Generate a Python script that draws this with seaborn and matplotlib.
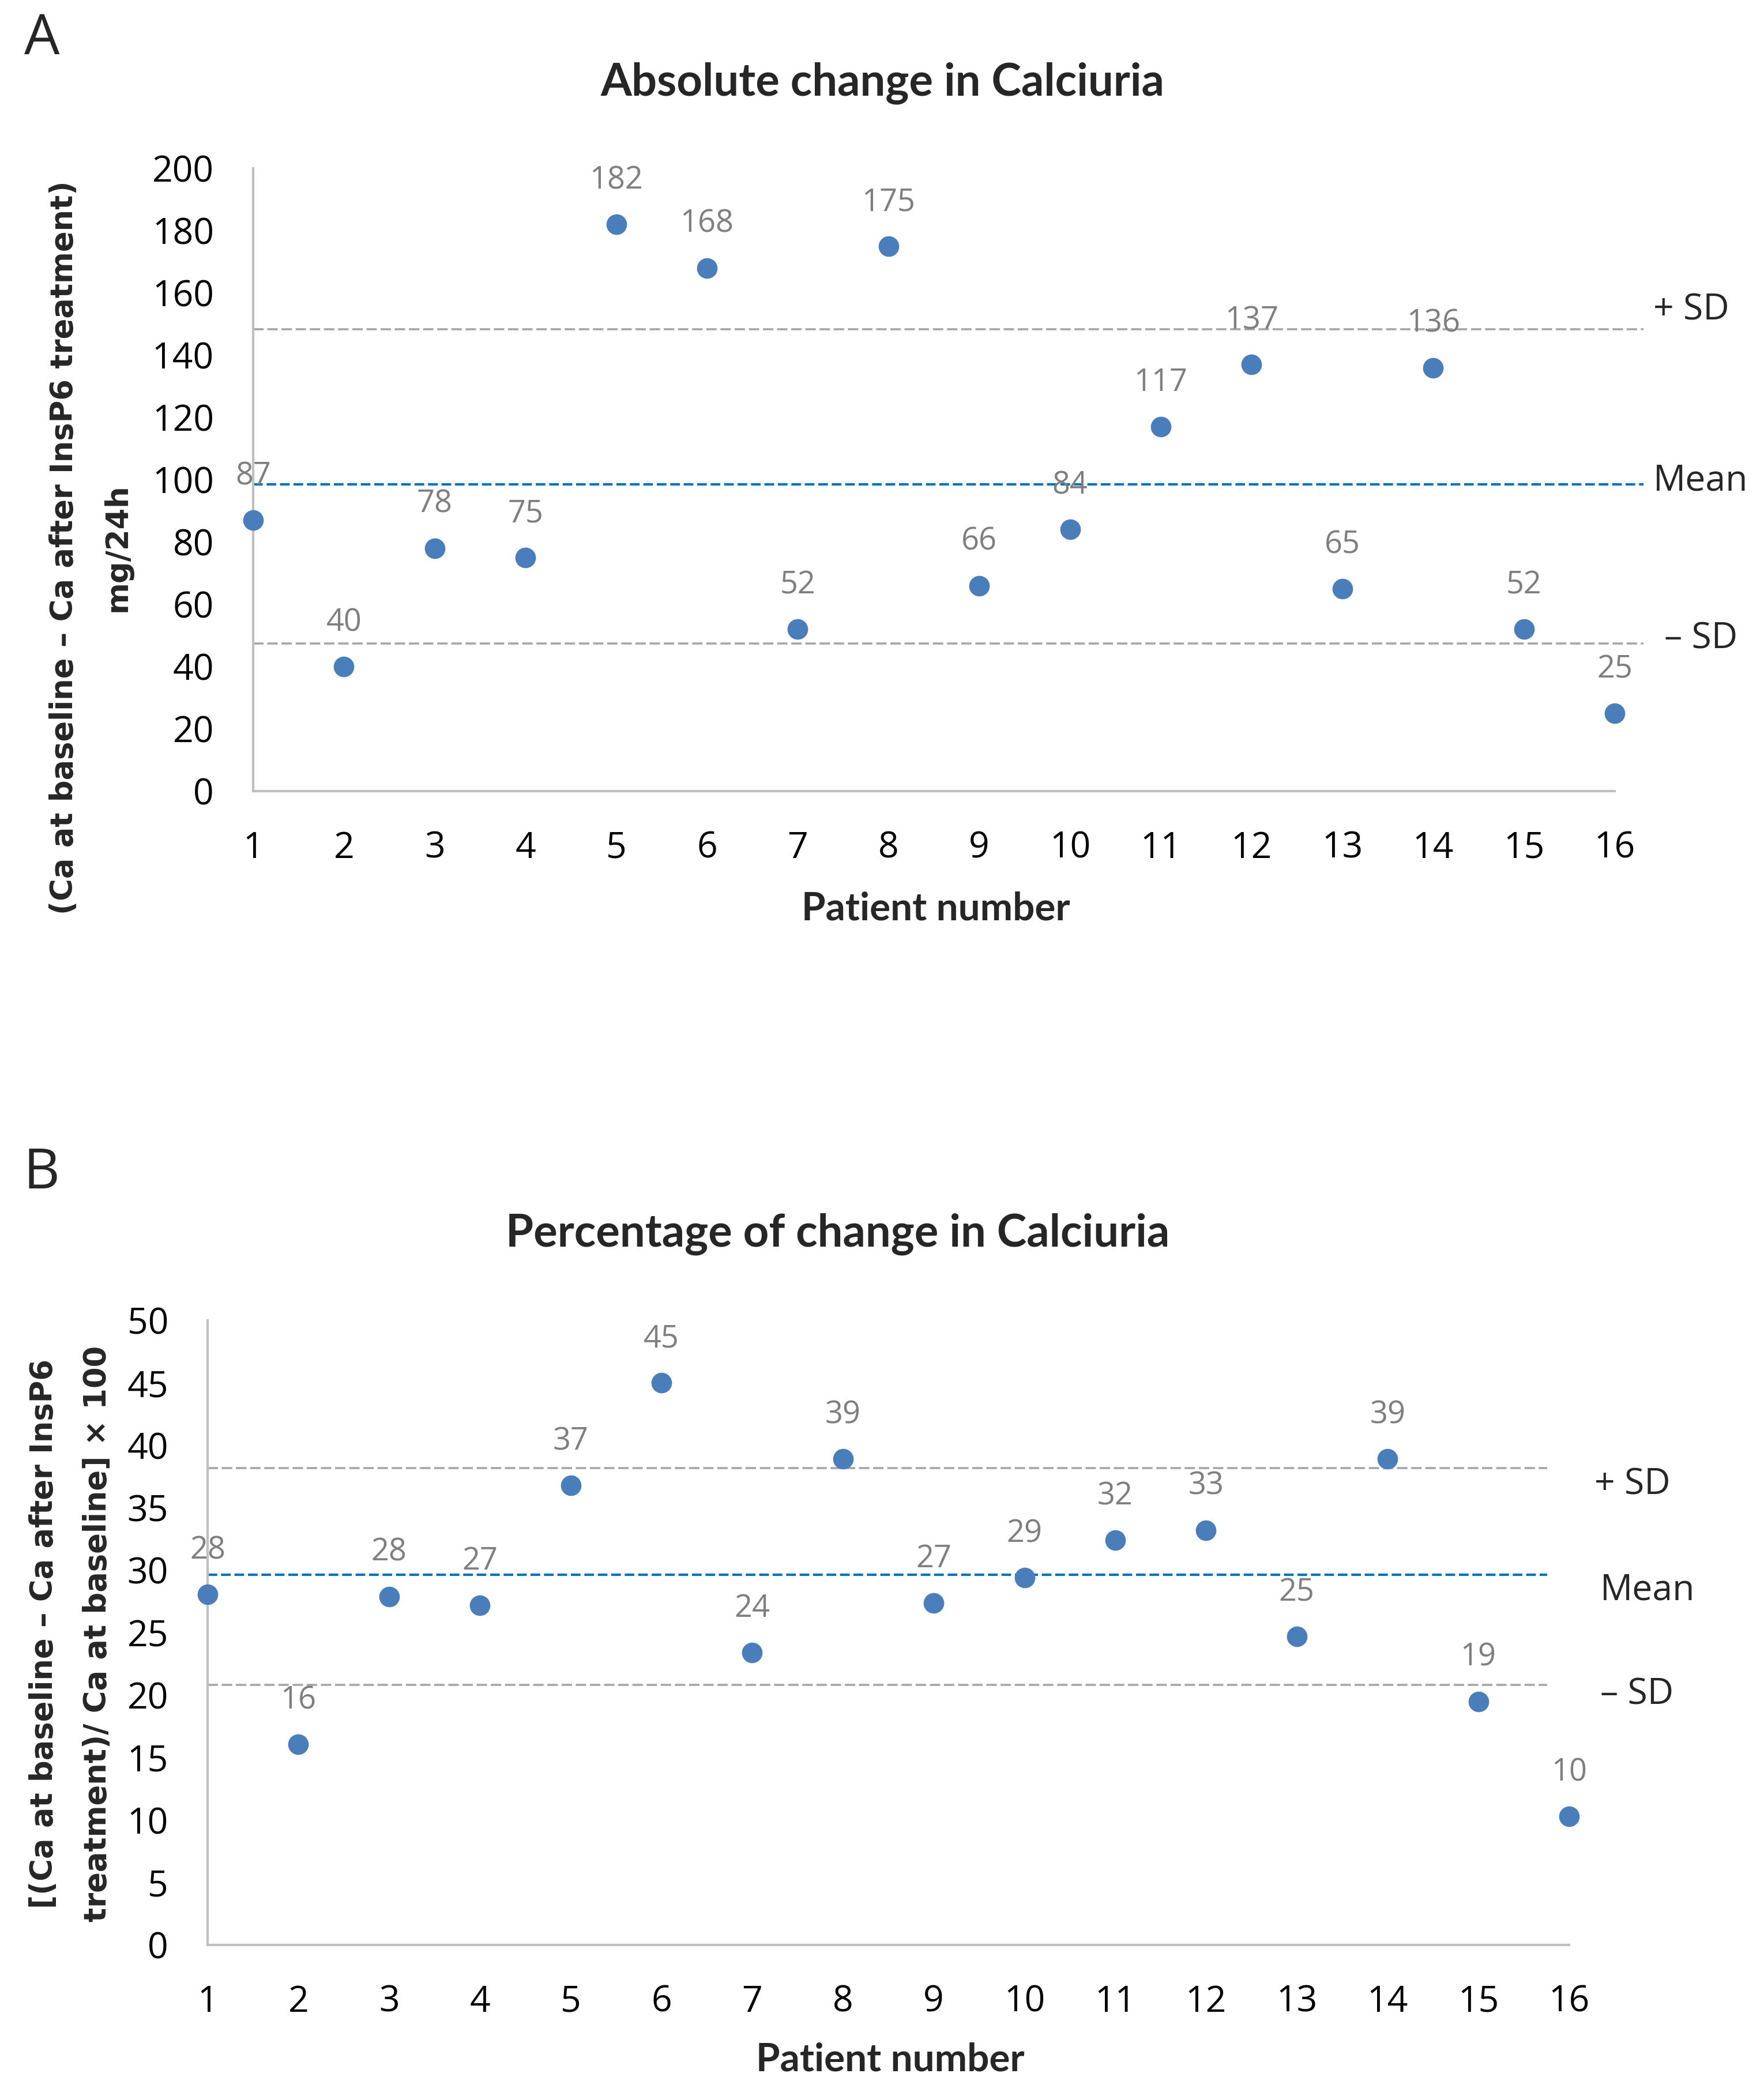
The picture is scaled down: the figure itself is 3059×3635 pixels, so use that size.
import matplotlib
matplotlib.use("Agg")
import matplotlib.pyplot as plt
import seaborn as sns
import pandas as pd

# ---------------- data ----------------
patients = list(range(1, 17))
abs_change = [87, 40, 78, 75, 182, 168, 52, 175, 66, 84, 117, 137, 65, 136, 52, 25]
abs_labels = ["87", "40", "78", "75", "182", "168", "52", "175", "66", "84", "117", "137", "65", "136", "52", "25"]
abs_mean = 98.6
abs_plus_sd = 148.3
abs_minus_sd = 47.4

pct_change = [28.05, 16.06, 27.9, 27.2, 36.8, 45.0, 23.4, 38.9, 27.4, 29.4, 32.4, 33.2, 24.7, 38.9, 19.5, 10.3]
pct_labels = ["28", "16", "28", "27", "37", "45", "24", "39", "27", "29", "32", "33", "25", "39", "19", "10"]
pct_mean = 29.66
pct_plus_sd = 38.2
pct_minus_sd = 20.8

abs_yticks = list(range(0, 201, 20))
pct_yticks = list(range(0, 51, 5))

df_abs = pd.DataFrame({"patient": patients, "value": abs_change, "label": abs_labels})
df_pct = pd.DataFrame({"patient": patients, "value": pct_change, "label": pct_labels})

# ---------------- style ----------------
sns.set_style("white")
plt.rcParams["font.family"] = ["Open Sans", "DejaVu Sans"]

W, H = 3059, 3635
fig = plt.figure(figsize=(W / 100, H / 100), dpi=100)

AXIS_GRAY = "#BFBFBF"
POINT_BLUE = "#4A7EBB"
MEAN_BLUE = "#0070C0"
SD_GRAY = "#A6A6A6"
LABEL_GRAY = "#7F7F7F"


def px_axes(left, top, right, bottom):
    return fig.add_axes([left / W, 1 - bottom / H, (right - left) / W, (bottom - top) / H])


def style_axes(ax, yticks):
    ax.set_xlim(1, 16)
    ax.set_ylim(yticks[0], yticks[-1])
    ax.set_xticks(patients)
    ax.set_yticks(yticks)
    for s in ["top", "right"]:
        ax.spines[s].set_visible(False)
    for s in ["left", "bottom"]:
        ax.spines[s].set_color(AXIS_GRAY)
        ax.spines[s].set_linewidth(3.0)
    ax.tick_params(axis="both", direction="out", length=16, width=3.0,
                   color=AXIS_GRAY, labelsize=45, pad=33, labelcolor="black")
    ax.set_xlabel("")
    ax.set_ylabel("")
    ax.grid(False)


def draw_panel(ax, df, mean, psd, msd, xend, yticks):
    frac = (xend - 1) / 15
    ax.axhline(psd, xmin=0, xmax=frac, color=SD_GRAY, lw=2.6,
               dashes=(5, 1.8), clip_on=False, zorder=1)
    ax.axhline(msd, xmin=0, xmax=frac, color=SD_GRAY, lw=2.6,
               dashes=(5, 1.8), clip_on=False, zorder=1)
    ax.axhline(mean, xmin=0, xmax=frac, color=MEAN_BLUE, lw=3.0,
               dashes=(4, 1.6), clip_on=False, zorder=1)
    sns.scatterplot(data=df, x="patient", y="value", ax=ax, s=660,
                    color=POINT_BLUE, edgecolor=POINT_BLUE, linewidth=0,
                    zorder=3, clip_on=False, legend=False)
    for x, y, lbl in zip(df["patient"], df["value"], df["label"]):
        ax.annotate(lbl, (x, y), xytext=(0, 55), textcoords="offset points",
                    ha="center", va="center", fontsize=39, color=LABEL_GRAY,
                    zorder=4)
    style_axes(ax, yticks)


BOLD_SANS = ["Lato", "DejaVu Sans"]

# ---------------- panel A ----------------
axA = px_axes(439, 292, 2800, 1372)
draw_panel(axA, df_abs, abs_mean, abs_plus_sd, abs_minus_sd, 16.32, abs_yticks)

fig.text(42 / W, 1 - 20 / H, "A", fontsize=70, ha="left", va="top")
fig.text(1530 / W, 1 - 144 / H, "Absolute change in Calciuria", fontsize=56,
         fontweight="bold", family=BOLD_SANS, ha="center", va="center")
fig.text(1623 / W, 1 - 1576 / H, "Patient number", fontsize=48.5,
         fontweight="bold", family=BOLD_SANS, ha="center", va="center")
fig.text(111 / W, 1 - 950 / H, "(Ca at baseline \u2013 Ca after InsP6 treatment)",
         fontsize=38, fontweight="bold", family=["DejaVu Sans"], rotation=90,
         ha="center", va="center")
fig.text(204 / W, 1 - 950 / H, "mg/24h",
         fontsize=38, fontweight="bold", family=["DejaVu Sans"], rotation=90,
         ha="center", va="center")
fig.text(2867 / W, 1 - 538 / H, "+ SD", fontsize=45, ha="left", va="center")
fig.text(2867 / W, 1 - 834 / H, "Mean", fontsize=45, ha="left", va="center")
fig.text(2886 / W, 1 - 1108 / H, "\u2013 SD", fontsize=45, ha="left", va="center")

# ---------------- panel B ----------------
axB = px_axes(360, 2290, 2721, 3373)
draw_panel(axB, df_pct, pct_mean, pct_plus_sd, pct_minus_sd, 15.76, pct_yticks)

fig.text(40 / W, 1 - 1987 / H, "B", fontsize=70, ha="left", va="top")
fig.text(1453 / W, 1 - 2140 / H, "Percentage of change in Calciuria", fontsize=56,
         fontweight="bold", family=BOLD_SANS, ha="center", va="center")
fig.text(1544 / W, 1 - 3572 / H, "Patient number", fontsize=48.5,
         fontweight="bold", family=BOLD_SANS, ha="center", va="center")
fig.text(76 / W, 1 - 2833 / H, "[(Ca at baseline \u2013 Ca after InsP6",
         fontsize=38, fontweight="bold", family=["DejaVu Sans"], rotation=90,
         ha="center", va="center")
fig.text(169 / W, 1 - 2833 / H, "treatment)/ Ca at baseline] \u00d7 100",
         fontsize=38, fontweight="bold", family=["DejaVu Sans"], rotation=90,
         ha="center", va="center")
fig.text(2765 / W, 1 - 2575 / H, "+ SD", fontsize=45, ha="left", va="center")
fig.text(2775 / W, 1 - 2758 / H, "Mean", fontsize=45, ha="left", va="center")
fig.text(2775 / W, 1 - 2939 / H, "\u2013 SD", fontsize=45, ha="left", va="center")

fig.savefig("out.png", dpi=100, facecolor="white")
